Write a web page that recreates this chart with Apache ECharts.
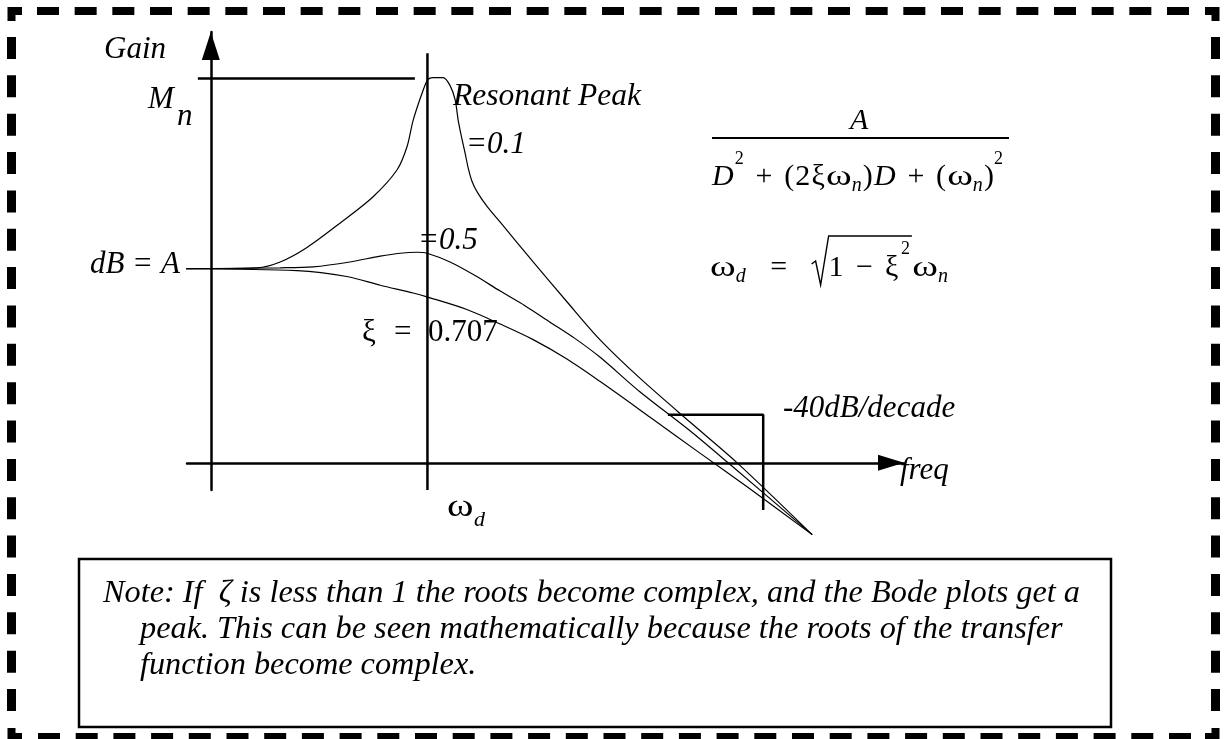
<!DOCTYPE html>
<html>
<head>
<meta charset="utf-8">
<script src="https://cdn.jsdelivr.net/npm/echarts@6/dist/echarts.min.js"></script>
<style>
  html, body { margin: 0; padding: 0; background: #fff; }
  #chart { width: 1224px; height: 739px; }
</style>
</head>
<body>
<div id="chart"></div>
<script>
// Second-order system gain curves.
// Frequency: decades above the left edge of the plot (gain axis at 0, omega_d at 0.5).
// Gain: dB, flat level A = 20 dB.
const freqZeta01 = [-0.057, 0.107, 0.160, 0.222, 0.298, 0.374, 0.430, 0.453, 0.467, 0.490, 0.501, 0.513, 0.536, 0.552, 0.564, 0.571, 0.580, 0.587, 0.594, 0.603, 0.615, 0.638, 0.668, 0.744, 0.822, 0.898, 0.991, 1.106, 1.215, 1.388];
const gainZeta01 = [20.0, 20.1, 20.7, 22.2, 24.7, 27.4, 30.2, 32.6, 35.3, 38.4, 39.5, 39.7, 39.7, 38.9, 37.4, 35.3, 33.3, 31.9, 30.4, 29.0, 27.9, 26.4, 24.8, 20.7, 16.6, 12.7, 8.7, 4.2, 0.0, -7.4];

const freqZeta05 = [-0.057, 0.160, 0.236, 0.321, 0.391, 0.437, 0.476, 0.499, 0.552, 0.610, 0.668, 0.725, 0.783, 0.841, 0.898, 0.991, 1.106, 1.194, 1.388];
const gainZeta05 = [20.0, 20.1, 20.2, 20.7, 21.3, 21.6, 21.7, 21.6, 20.7, 19.3, 17.7, 16.2, 14.5, 12.8, 10.9, 7.3, 3.3, 0.0, -7.4];

const freqZeta0707 = [-0.057, 0.199, 0.314, 0.391, 0.467, 0.499, 0.591, 0.668, 0.744, 0.822, 0.898, 1.014, 1.129, 1.245, 1.388];
const gainZeta0707 = [20.0, 19.8, 19.2, 18.3, 17.5, 17.1, 15.8, 14.3, 12.7, 10.7, 8.4, 4.7, 1.0, -2.7, -7.4];

// Reference lines: resonant peak level, damped frequency, slope marker
const peakLineFreq = [-0.030, 0.471];
const peakLineGain = [39.6, 39.6];
const omegaDFreq = [0.5, 0.5];
const omegaDGain = [-2.8, 42.2];
const slopeMarkFreq = [1.055, 1.275, 1.275];
const slopeMarkGain = [4.95, 4.95, -4.85];

const noteLines = [
  'Note: If  \u03B6 is less than 1 the roots become complex, and the Bode plots get a',
  'peak. This can be seen mathematically because the roots of the transfer',
  'function become complex.'
];

const SERIF = '"Liberation Serif", "Times New Roman", serif';
const INK = '#000';
const OMEGA_WIDEN = 1.3;

function pairs(xs, ys) { return xs.map((x, i) => [x, ys[i]]); }

function curve(name, xs, ys) {
  return {
    name, type: 'line', data: pairs(xs, ys), showSymbol: false, clip: false,
    smooth: 0.3, silent: true,
    lineStyle: { color: INK, width: 1.2 }
  };
}
function guide(name, xs, ys) {
  return {
    name, type: 'line', data: pairs(xs, ys), showSymbol: false, clip: false, silent: true,
    lineStyle: { color: INK, width: 2.5 }
  };
}

const measureCtx = document.createElement('canvas').getContext('2d');
function fontOf(size, italic) { return (italic ? 'italic ' : '') + size + 'px ' + SERIF; }
function widthOf(str, size, italic) { measureCtx.font = fontOf(size, italic); return measureCtx.measureText(str).width; }

// one text run, left aligned, vertically centred on y
function txt(str, x, y, size, italic, sx) {
  return {
    type: 'text', x, y, silent: true, scaleX: sx || 1,
    style: {
      text: str, fontFamily: SERIF, fontSize: size,
      fontStyle: italic ? 'italic' : 'normal', fill: INK,
      align: 'left', verticalAlign: 'middle', textAlign: 'left', textVerticalAlign: 'middle'
    }
  };
}
function seg(points, width) {
  return { type: 'polyline', silent: true, shape: { points },
    style: { stroke: INK, lineWidth: width, fill: null, lineCap: 'butt', lineJoin: 'miter' } };
}
function dashedSide(x1, y1, x2, y2, n, dash, width) {
  const len = Math.hypot(x2 - x1, y2 - y1);
  const gap = (len - n * dash) / (n - 1);
  return { type: 'line', silent: true, shape: { x1, y1, x2, y2 },
    style: { stroke: INK, lineWidth: width, lineDash: [dash, gap], lineCap: 'butt' } };
}

// Lay a formula out between x0 and x1: spare room goes into the gaps by weight w.
// Pieces: { t, s: size, i: italic, dy, sx, w, box: fixed width (no glyph) }
function fitRun(x0, x1, y, parts) {
  const widths = parts.map(p => p.box != null ? p.box : widthOf(p.t, p.s, p.i) * (p.sx || 1));
  const total = widths.reduce((a, b) => a + b, 0);
  const wsum = parts.reduce((a, p, k) => a + (k ? (p.w == null ? 1 : p.w) : 0), 0);
  const spare = (x1 - x0) - total;
  const els = [], xs = [];
  let cx = x0;
  parts.forEach((p, k) => {
    if (k) cx += spare * (p.w == null ? 1 : p.w) / wsum;
    xs.push(cx);
    if (p.box == null) els.push(txt(p.t, cx, y + (p.dy || 0), p.s, p.i, p.sx));
    cx += widths[k];
  });
  return { els, xs, widths };
}

const F = 30, SUB = 20, SUP = 18;
const denom = fitRun(712, 1003, 177, [
  { t: 'D', s: F, i: true },
  { t: '2', s: SUP, dy: -18, w: 0.2 },
  { t: '+', s: F, w: 2 },
  { t: '(', s: F, w: 2 },
  { t: '2', s: F, w: 0.2 },
  { t: '\u03BE', s: F, w: 0.2 },
  { t: '\u03C9', s: F, sx: OMEGA_WIDEN, w: 0.2 },
  { t: 'n', s: SUB, i: true, dy: 9, w: 0 },
  { t: ')', s: F, w: 0.2 },
  { t: 'D', s: F, i: true, w: 0.2 },
  { t: '+', s: F, w: 2 },
  { t: '(', s: F, w: 2 },
  { t: '\u03C9', s: F, sx: OMEGA_WIDEN, w: 0.2 },
  { t: 'n', s: SUB, i: true, dy: 9, w: 0 },
  { t: ')', s: F, w: 0.2 },
  { t: '2', s: SUP, dy: -18, w: 0 }
]);
const damped = fitRun(710, 948, 268, [
  { t: '\u03C9', s: F, sx: OMEGA_WIDEN },
  { t: 'd', s: SUB, i: true, dy: 9, w: 0 },
  { t: '=', s: F, w: 2 },
  { box: 17, w: 2 },
  { t: '1', s: F, w: 0 },
  { t: '\u2212', s: F, w: 1 },
  { t: '\u03BE', s: F, w: 1 },
  { t: '2', s: SUP, dy: -19, w: 0.2 },
  { t: '\u03C9', s: F, sx: OMEGA_WIDEN, w: 0.2 },
  { t: 'n', s: SUB, i: true, dy: 9, w: 0 }
]);
const rx = damped.xs[3], barEnd = damped.xs[7] + damped.widths[7] + 2;
const radical = seg([[rx, 264], [rx + 4, 261], [rx + 9, 285], [rx + 17, 236], [barEnd, 236]], 1.4);

const graphics = [
  // dashed frame
  dashedSide(37, 11, 1189, 11, 31, 22, 8),
  dashedSide(38, 737, 1191, 737, 31, 22, 8),
  dashedSide(11.5, 37, 11.5, 711, 18, 22, 9),
  dashedSide(1215.5, 37, 1215.5, 711, 18, 22, 9),
  seg([[22, 11], [11.5, 11], [11.5, 21]], 8),
  seg([[1205, 11], [1215.5, 11], [1215.5, 21]], 8),
  seg([[11.5, 728], [11.5, 737], [22, 737]], 8),
  seg([[1215.5, 728], [1215.5, 737], [1205, 737]], 8),

  // axis captions and curve labels
  txt('Gain', 104, 50, 31, true),
  txt('M', 148, 100, 31, true),
  txt('n', 177, 117, 31, true),
  txt('dB', 90, 265, 31, true),
  txt('=', 134, 265, 31, false),
  txt('A', 161, 265, 31, true),
  txt('Resonant Peak', 453, 97, 31.5, true),
  txt('=0.1', 466, 145, 31, true),
  txt('=0.5', 418, 241, 31, true),
  txt('\u03BE', 362, 333, 31, false),
  txt('=', 394, 333, 31, false),
  txt('0.707', 428, 333, 31, false),
  txt('\u03C9', 447, 508, 31, false, OMEGA_WIDEN),
  txt('d', 474, 520, 22, true),
  txt('-40dB/decade', 783, 409, 31, true),
  txt('freq', 900, 471, 31, true),

  // transfer function
  txt('A', 850, 121, F, true),
  seg([[712, 138], [1009, 138]], 2),
  ...denom.els,

  // damped natural frequency
  ...damped.els,
  radical,

  // note box
  { type: 'rect', silent: true, shape: { x: 79, y: 559, width: 1032, height: 168 },
    style: { stroke: INK, lineWidth: 2.5, fill: null } },
  txt(noteLines[0], 103, 594, 32.3, true),
  txt(noteLines[1], 140, 630, 32.3, true),
  txt(noteLines[2], 140, 666, 32.3, true)
];

const chart = echarts.init(document.getElementById('chart'), null, { renderer: 'canvas' });
chart.setOption({
  animation: false,
  backgroundColor: '#fff',
  grid: { left: 187, right: 320, top: 32, bottom: 249, containLabel: false },
  xAxis: {
    type: 'value', min: -0.055, max: 1.6,
    axisLine: { onZero: true, symbol: ['none', 'triangle'], symbolSize: [16, 26], symbolOffset: [0, -13],
      lineStyle: { color: INK, width: 2.5 } },
    axisTick: { show: false }, axisLabel: { show: false }, splitLine: { show: false }
  },
  yAxis: {
    type: 'value', min: -2.8, max: 44.4,
    axisLine: { onZero: true, symbol: ['none', 'triangle'], symbolSize: [18, 28], symbolOffset: [0, -14],
      lineStyle: { color: INK, width: 2.5 } },
    axisTick: { show: false }, axisLabel: { show: false }, splitLine: { show: false }
  },
  series: [
    curve('zeta = 0.1', freqZeta01, gainZeta01),
    curve('zeta = 0.5', freqZeta05, gainZeta05),
    curve('zeta = 0.707', freqZeta0707, gainZeta0707),
    guide('resonant peak', peakLineFreq, peakLineGain),
    guide('omega d', omegaDFreq, omegaDGain),
    guide('slope marker', slopeMarkFreq, slopeMarkGain)
  ],
  graphic: { elements: graphics }
});
</script>
</body>
</html>
